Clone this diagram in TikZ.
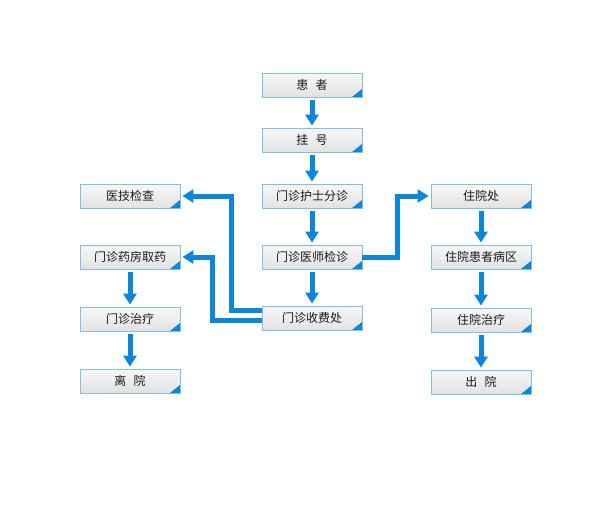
\documentclass[tikz,border=0pt]{standalone}
\usepackage{fontspec}
\newfontfamily\cjk{Noto Sans CJK SC}
\usepackage{tikz}
\usetikzlibrary{arrows.meta}
\usepackage{xcolor}
\definecolor{flowblue}{HTML}{0B86D9}
\definecolor{boxline}{HTML}{86BDE6}
\definecolor{boxtop}{HTML}{F7F7F7}
\definecolor{boxbot}{HTML}{E2E2E2}

\tikzset{
  stepbox/.style={draw=boxline, line width=0.8pt, top color=boxtop, bottom color=boxbot,
    minimum width=100pt, minimum height=24pt, inner sep=0pt, text=black!90,
    font=\cjk\fontsize{12}{14}\selectfont,
    path picture={\fill[flowblue] ([yshift=8pt]path picture bounding box.south east)
      -- (path picture bounding box.south east) -- ([xshift=-10pt]path picture bounding box.south east) -- cycle;}},
  flow/.style={draw=flowblue, line width=5pt, shorten <=3pt, shorten >=2pt,
    -{Triangle[length=11pt,width=13pt]}}
}

\begin{document}
\begin{tikzpicture}[x=1pt,y=-1pt]
  \useasboundingbox (0,0) rectangle (597,531);
  % middle column
  \node[stepbox] (patient) at (312,85)  {患\hspace{0.6em}者};
  \node[stepbox] (reg)     at (312,140) {挂\hspace{0.6em}号};
  \node[stepbox] (triage)  at (312,196) {门诊护士分诊};
  \node[stepbox] (doctor)  at (312,257) {门诊医师检诊};
  \node[stepbox] (cashier) at (312,318) {门诊收费处};
  % left column
  \node[stepbox] (medtech) at (130,196) {医技检查};
  \node[stepbox] (pharmacy) at (130,257) {门诊药房取药};
  \node[stepbox] (outtreat) at (130,319) {门诊治疗};
  \node[stepbox] (leave)   at (130,381) {离\hspace{0.6em}院};
  % right column
  \node[stepbox] (admit)   at (481,196) {住院处};
  \node[stepbox] (ward)    at (481,257) {住院患者病区};
  \node[stepbox] (intreat) at (481,320) {住院治疗};
  \node[stepbox] (discharge) at (481,382) {出\hspace{0.6em}院};

  \draw[flow] (patient) -- (reg);
  \draw[flow] (reg) -- (triage);
  \draw[flow] (triage) -- (doctor);
  \draw[flow] (doctor) -- (cashier);
  \draw[flow] (pharmacy) -- (outtreat);
  \draw[flow] (outtreat) -- (leave);
  \draw[flow] (admit) -- (ward);
  \draw[flow] (ward) -- (intreat);
  \draw[flow] (intreat) -- (discharge);

  \draw[flow, shorten <=0pt] ([yshift=8pt]cashier.west) -- ++(-30,0) |- (medtech.east);
  \draw[flow, shorten <=0pt] ([yshift=-2pt]cashier.west) -- ++(-49,0) |- (pharmacy.east);
  \draw[flow, shorten <=0pt] (doctor.east) -- ++(35,0) |- (admit.west);
\end{tikzpicture}
\end{document}
